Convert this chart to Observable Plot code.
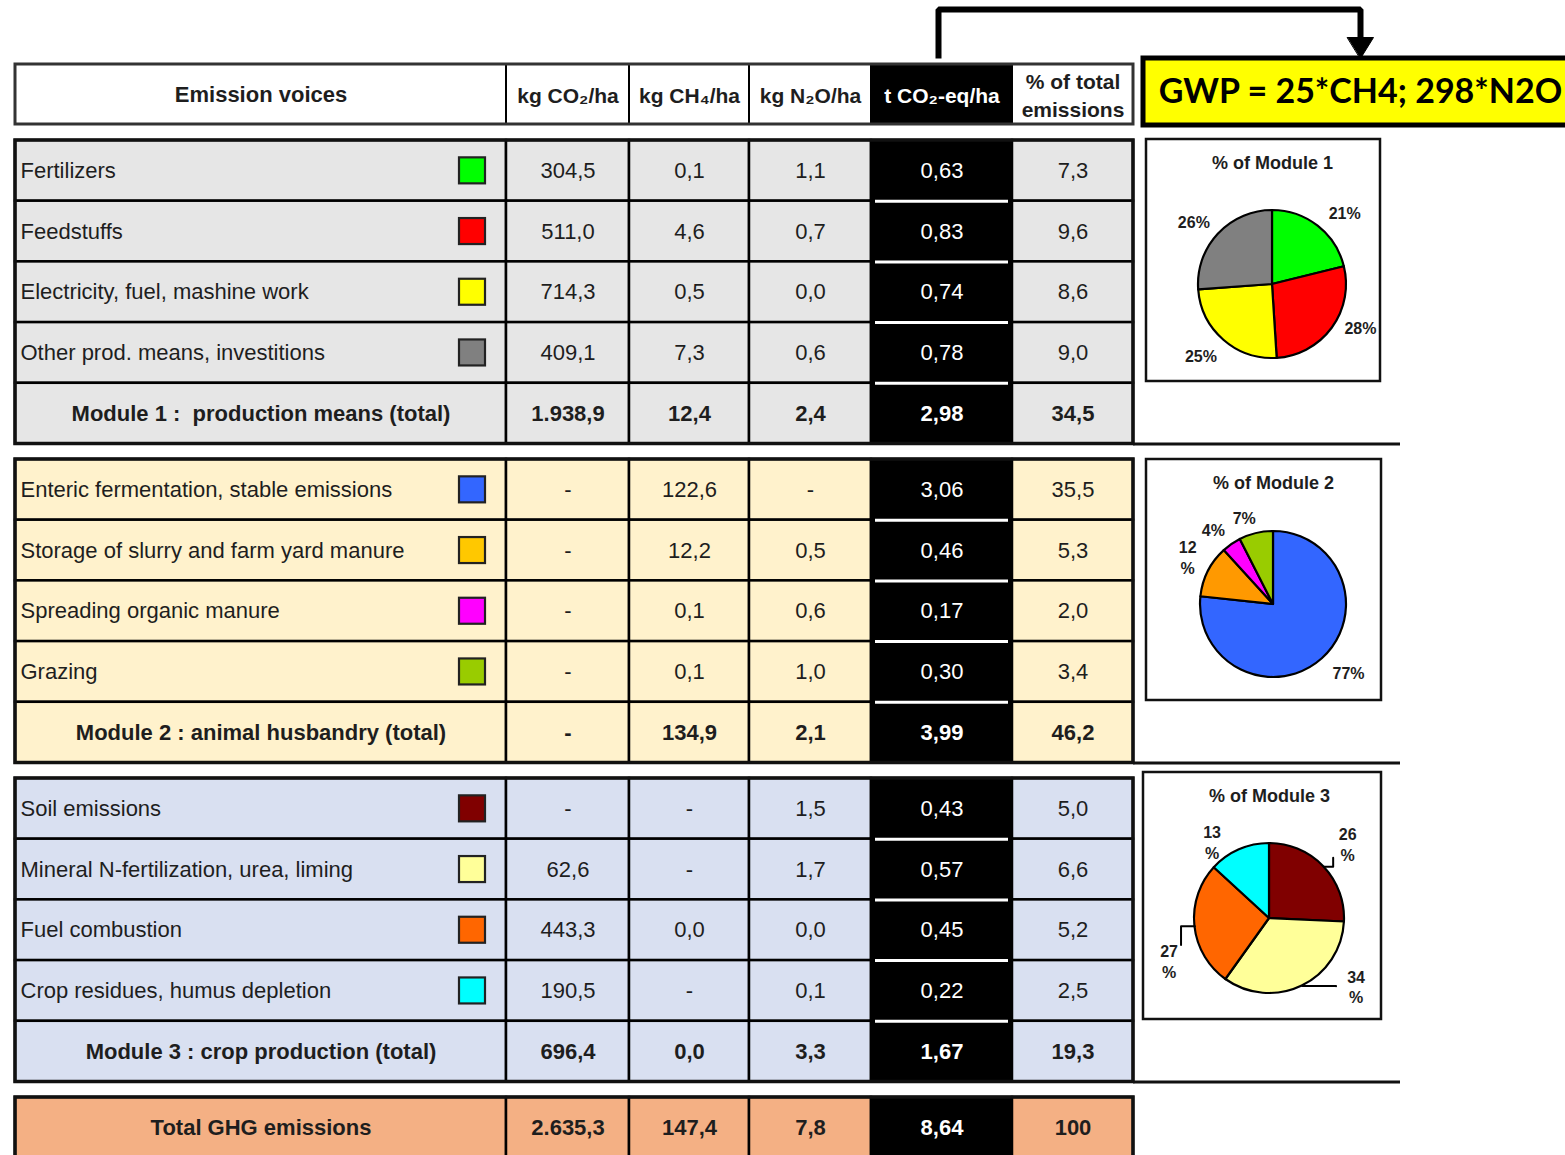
<!DOCTYPE html>
<html><head><meta charset="utf-8">
<script src="https://cdn.jsdelivr.net/npm/d3@7"></script>
<script src="https://cdn.jsdelivr.net/npm/@observablehq/plot@0.6"></script>
<style>html,body{margin:0;padding:0;background:#fff;} #chart svg{display:block}</style>
</head><body><div id="chart"></div>
<script>
// ---------------- DATA ----------------
const columnHeaders = ["Emission voices", "kg CO₂/ha", "kg CH₄/ha", "kg N₂O/ha", "t CO₂-eq/ha", "% of total\nemissions"];
const items = [
  "Fertilizers", "Feedstuffs", "Electricity, fuel, mashine work", "Other prod. means, investitions",
  "Enteric fermentation, stable emissions", "Storage of slurry and farm yard manure", "Spreading organic manure", "Grazing",
  "Soil emissions", "Mineral N-fertilization, urea, liming", "Fuel combustion", "Crop residues, humus depletion"
];
const itemModule = [1, 1, 1, 1, 2, 2, 2, 2, 3, 3, 3, 3];
const itemColors = ["#00ff00", "#ff0000", "#ffff00", "#808080", "#3366ff", "#ffc800", "#ff00ff", "#99cc00", "#800000", "#ffff99", "#ff6600", "#00ffff"];
const pieColors  = ["#00ff00", "#ff0000", "#ffff00", "#808080", "#3366ff", "#ff9900", "#ff00ff", "#99cc00", "#800000", "#ffff99", "#ff6600", "#00ffff"];
const kgCO2  = [304.5, 511.0, 714.3, 409.1, null, null, null, null, null, 62.6, 443.3, 190.5];
const kgCH4  = [0.1, 4.6, 0.5, 7.3, 122.6, 12.2, 0.1, 0.1, null, null, 0.0, null];
const kgN2O  = [1.1, 0.7, 0.0, 0.6, null, 0.5, 0.6, 1.0, 1.5, 1.7, 0.0, 0.1];
const tCO2eq = [0.63, 0.83, 0.74, 0.78, 3.06, 0.46, 0.17, 0.30, 0.43, 0.57, 0.45, 0.22];
const pctTotal = [7.3, 9.6, 8.6, 9.0, 35.5, 5.3, 2.0, 3.4, 5.0, 6.6, 5.2, 2.5];

const moduleNames = ["Module 1 :  production means (total)", "Module 2 : animal husbandry (total)", "Module 3 : crop production (total)"];
const moduleCO2 = [1938.9, null, 696.4];
const moduleCH4 = [12.4, 134.9, 0.0];
const moduleN2O = [2.4, 2.1, 3.3];
const moduleT   = [2.98, 3.99, 1.67];
const modulePct = [34.5, 46.2, 19.3];

const totalLabel = "Total GHG emissions";
const totalValues = [2635.3, 147.4, 7.8, 8.64, 100];

const pieTitles = ["% of Module 1", "% of Module 2", "% of Module 3"];
const pieLabels = [["21%", "28%", "25%", "26%"], ["77%", "12%", "4%", "7%"], ["26%", "34%", "27%", "13%"]];
const gwpNote = "GWP = 25*CH4; 298*N2O";

// ---------------- LAYOUT / STYLE ----------------
const W = 1565, H = 1155;
const L = {
  colEdges: [15, 506, 629, 749, 871, 1012, 1133],
  header: [64, 124],
  groupTop: [140, 459, 778, 1097],
  rowH: 60.7,
  labelX: 20,
  swatch: [459, 485, 13],
  extendTo: 1400,
  pies: [
    {box: [1146, 139, 1380, 381], cx: 1272, cy: 284, r: 74, dist: [102, 98, 101, 101], shift: [7, -10, 4, -4], wrap: [0, 0, 0, 0], leader: [0, 0, 0, 0]},
    {box: [1146, 459, 1381, 700], cx: 1273, cy: 604, r: 73, dist: [101, 98, 96, 92], shift: [-6, 2, -4, -5], wrap: [0, 1, 0, 0], leader: [0, 0, 0, 0]},
    {box: [1143, 772, 1381, 1019], cx: 1269, cy: 918, r: 75, dist: [108, 110, 109, 96], shift: [0, -26, -17, -13], wrap: [1, 1, 1, 1], leader: [1, 1, 1, 0]}
  ],
  gwp: [1143, 58, 1580, 125],
  arrow: {x0: 938, x1: 1360, yTop: 9, yStart: 58, head: 19, headW: 13}
};
const groupFills = ["#e6e6e6", "#fff2cc", "#d9e0f1", "#f4b084"];
const ink = "#1e1e1e";
const sans = "Liberation Sans, Arial, sans-serif";
const narrow = "Liberation Sans Narrow, Arial Narrow, Liberation Sans, sans-serif";

// ---------------- BUILD TABLES ----------------
const loc = d3.formatLocale({decimal: ",", thousands: ".", grouping: [3], currency: ["", ""]});
const f1 = loc.format(",.1f"), f2 = loc.format(",.2f"), f0 = loc.format(",.0f");
const colFmt = [f1, f1, f1, f2, f1];
const fmt = (v, c, kind) => v == null ? "-" : (kind === "total" && c === 4 ? f0(v) : colFmt[c](v));

const rows = [];
for (let g = 0; g < 3; g++) {
  const idx = d3.range(items.length).filter(i => itemModule[i] === g + 1);
  idx.forEach((i, r) => rows.push({g, r, kind: "item", label: items[i], color: itemColors[i],
    vals: [kgCO2[i], kgCH4[i], kgN2O[i], tCO2eq[i], pctTotal[i]]}));
  rows.push({g, r: 4, kind: "module", label: moduleNames[g],
    vals: [moduleCO2[g], moduleCH4[g], moduleN2O[g], moduleT[g], modulePct[g]]});
}
rows.push({g: 3, r: 0, kind: "total", label: totalLabel, vals: totalValues});
rows.forEach(d => { d.y1 = L.groupTop[d.g] + d.r * L.rowH; d.y2 = d.y1 + L.rowH; d.ym = (d.y1 + d.y2) / 2; });

const E = L.colEdges;
const colMid = c => (E[c] + E[c + 1]) / 2;
const cells = rows.flatMap(d => d3.range(6).map(c => ({
  x1: E[c], x2: E[c + 1], y1: d.y1, y2: d.y2, fill: c === 4 ? "#000" : groupFills[d.g]
})));
const headerCells = d3.range(6).map(c => ({x1: E[c], x2: E[c + 1], y1: L.header[0], y2: L.header[1],
  fill: c === 4 ? "#000" : "#fff", text: columnHeaders[c], tfill: c === 4 ? "#fff" : ink}));
const valueTexts = rows.flatMap(d => d.vals.map((v, c) => ({
  x: colMid(c + 1), y: d.ym, text: fmt(v, c, d.kind), fill: c === 3 ? "#fff" : ink, bold: d.kind !== "item"
})));
const groups = d3.range(4).map(g => ({y1: L.groupTop[g], y2: L.groupTop[g] + (g < 3 ? 5 : 1) * L.rowH}));
const whiteSeps = d3.range(3).flatMap(g => d3.range(1, 5).map(r => ({y: L.groupTop[g] + r * L.rowH})));

// ---------------- PIES ----------------
const pieData = d3.range(3).map(g => {
  const idx = d3.range(items.length).filter(i => itemModule[i] === g + 1);
  return {values: idx.map(i => tCO2eq[i]), colors: idx.map(i => pieColors[i])};
});
const pieLabelPts = [], leaders = [];
pieData.forEach((pd, p) => {
  const P = L.pies[p];
  const arcs = d3.pie().sort(null)(pd.values);
  arcs.forEach((a, i) => {
    const mid = (a.startAngle + a.endAngle) / 2;
    const ang = mid + P.shift[i] * Math.PI / 180;
    const lx = P.cx + P.dist[i] * Math.sin(ang), ly = P.cy - P.dist[i] * Math.cos(ang);
    const t = pieLabels[p][i];
    pieLabelPts.push({x: lx, y: ly, text: P.wrap[i] ? t.replace("%", "\n%") : t});
    if (P.leader[i]) {
      const ex = P.cx + P.r * Math.sin(mid), ey = P.cy - P.r * Math.cos(mid);
      const dx = lx - ex, dy = ly - ey, len = Math.hypot(dx, dy);
      const k = (len - 20) / len;
      leaders.push({id: `${p}-${i}`, x: ex, y: ey}, {id: `${p}-${i}`, x: ex + dx * k, y: ey + dy * k});
    }
  });
});
function pieMark(p) {
  const P = L.pies[p], pd = pieData[p];
  return (index, scales) => {
    const {x, y} = scales;
    const r = x(P.cx + P.r) - x(P.cx);
    const arcs = d3.pie().sort(null)(pd.values);
    const g = d3.create("svg:g").attr("transform", `translate(${x(P.cx)},${y(P.cy)})`);
    g.selectAll("path").data(arcs).join("path")
      .attr("d", d3.arc().innerRadius(0).outerRadius(r))
      .attr("fill", (d, i) => pd.colors[i])
      .attr("stroke", "#000").attr("stroke-width", 2.2).attr("stroke-linejoin", "round");
    return g.node();
  };
}

// ---------------- ARROW ----------------
const A = L.arrow;
const arrowPath = [[A.x0, A.yStart], [A.x0, A.yTop], [A.x1, A.yTop], [A.x1, A.yStart - A.head]];
const arrowHead = [[A.x1 - A.headW, A.yStart - A.head - 2], [A.x1 + A.headW, A.yStart - A.head - 2], [A.x1, A.yStart]];

// ---------------- PLOT ----------------
const chart = Plot.plot({
  width: W, height: H, margin: 0,
  x: {domain: [0, W], range: [0, W], axis: null},
  y: {domain: [0, H], range: [0, H], axis: null},
  color: {type: "identity"},
  style: {background: "#fff"},
  marks: [
    // header
    Plot.rect(headerCells, {x1: "x1", x2: "x2", y1: "y1", y2: "y2", fill: "fill", stroke: "#000", strokeWidth: 2}),
    Plot.rect([0], {x1: E[0], x2: E[6], y1: L.header[0], y2: L.header[1], fill: "none", stroke: "#333", strokeWidth: 3}),
    Plot.text(headerCells.slice(0, 1), {x: d => (d.x1 + d.x2) / 2, y: d => (d.y1 + d.y2) / 2, text: "text", fill: "tfill",
      fontSize: 22, fontWeight: "bold", fontFamily: sans}),
    Plot.text(headerCells.slice(1), {x: d => (d.x1 + d.x2) / 2, y: d => (d.y1 + d.y2) / 2, text: "text", fill: "tfill",
      fontSize: 21, fontWeight: "bold", fontFamily: narrow, lineHeight: 1.33}),
    // body cells
    Plot.rect(cells, {x1: "x1", x2: "x2", y1: "y1", y2: "y2", fill: "fill", stroke: "#000", strokeWidth: 2.5}),
    Plot.ruleY(whiteSeps, {y: "y", x1: E[4] + 4, x2: E[5] - 4, stroke: "#fff", strokeWidth: 3}),
    Plot.rect(groups, {x1: E[0], x2: E[6], y1: "y1", y2: "y2", fill: "none", stroke: "#111", strokeWidth: 3.5}),
    Plot.ruleY(groups.slice(0, 3), {y: "y2", x1: E[6], x2: L.extendTo, stroke: "#111", strokeWidth: 3}),
    // swatches
    Plot.rect(rows.filter(d => d.kind === "item"), {x1: L.swatch[0], x2: L.swatch[1], y1: d => d.ym - L.swatch[2], y2: d => d.ym + L.swatch[2],
      fill: "color", stroke: "#222", strokeWidth: 2.2}),
    // labels
    Plot.text(rows.filter(d => d.kind === "item"), {x: L.labelX, y: "ym", text: "label", textAnchor: "start",
      fill: ink, fontSize: 22, fontFamily: sans}),
    Plot.text(rows.filter(d => d.kind !== "item"), {x: colMid(0), y: "ym", text: "label",
      fill: ink, fontSize: 22, fontWeight: "bold", fontFamily: sans}),
    Plot.text(valueTexts.filter(d => !d.bold), {x: "x", y: "y", text: "text", fill: "fill", fontSize: 22, fontFamily: sans}),
    Plot.text(valueTexts.filter(d => d.bold), {x: "x", y: "y", text: "text", fill: "fill", fontSize: 22, fontWeight: "bold", fontFamily: sans}),
    // pie boxes
    Plot.rect(L.pies, {x1: d => d.box[0], x2: d => d.box[2], y1: d => d.box[1], y2: d => d.box[3], fill: "#fff", stroke: "#111", strokeWidth: 2.5}),
    Plot.text(L.pies.map((P, p) => ({x: P.cx, y: P.box[1] + 24, text: pieTitles[p]})), {x: "x", y: "y", text: "text",
      fill: ink, fontSize: 18, fontWeight: "bold", fontFamily: sans}),
    pieMark(0), pieMark(1), pieMark(2),
    Plot.line(leaders, {x: "x", y: "y", z: "id", stroke: "#000", strokeWidth: 2, curve: "step-after"}),
    Plot.text(pieLabelPts, {x: "x", y: "y", text: "text", fill: ink, fontSize: 16, fontWeight: "bold", fontFamily: sans, lineHeight: 1.3}),
    // GWP note + arrow
    Plot.line(arrowPath, {stroke: "#000", strokeWidth: 6, strokeLinejoin: "miter", strokeLinecap: "butt"}),
    Plot.line(arrowHead, {fill: "#000", stroke: "#000", strokeWidth: 1, curve: "linear-closed"}),
    Plot.rect([0], {x1: L.gwp[0], x2: L.gwp[2], y1: L.gwp[1], y2: L.gwp[3], fill: "#ffff00", stroke: "#000", strokeWidth: 5}),
    Plot.text([gwpNote], {x: 1360, y: (L.gwp[1] + L.gwp[3]) / 2, text: d => d, fill: "#000", fontSize: 34, fontWeight: "bold", fontFamily: "Lato, Open Sans, sans-serif"})
  ]
});
document.getElementById("chart").append(chart);
</script>
</body></html>
